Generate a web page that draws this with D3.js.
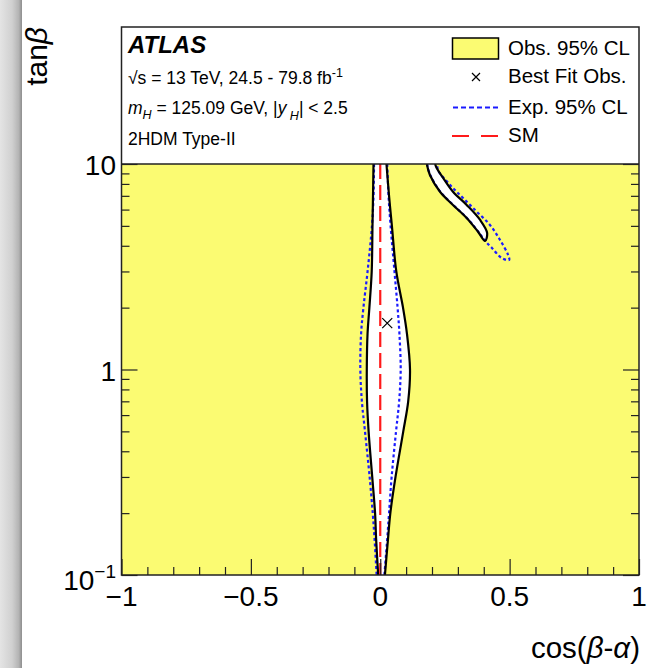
<!DOCTYPE html>
<html><head><meta charset="utf-8">
<script src="https://cdn.jsdelivr.net/npm/d3@7"></script>
<style>
body{margin:0;background:#fff}
svg{display:block}
text{font-family:"Liberation Sans",Arial,Helvetica,sans-serif;fill:#000}
</style>
</head><body>
<svg id="c" width="649" height="668"></svg>
<script>
// tan(beta) rows where the central allowed band is sampled
const tanBeta = [10, 7, 5, 3, 2, 1.5, 1, 0.7, 0.5, 0.3, 0.2, 0.15, 0.1];
// observed 95% CL band edges in cos(beta-alpha)
const obsLow  = [-0.026, -0.028, -0.030, -0.033, -0.042, -0.049, -0.052, -0.051, -0.045, -0.031, -0.020, -0.016, -0.008];
const obsHigh = [0.024, 0.034, 0.045, 0.062, 0.088, 0.103, 0.115, 0.108, 0.089, 0.059, 0.039, 0.030, 0.018];
// expected 95% CL band edges
const expLow  = [-0.024, -0.026, -0.032, -0.049, -0.065, -0.074, -0.077, -0.071, -0.059, -0.041, -0.029, -0.022, -0.014];
const expHigh = [0.027, 0.032, 0.040, 0.055, 0.067, 0.074, 0.079, 0.073, 0.061, 0.044, 0.034, 0.027, 0.016];
// upper-right observed island: lower edge down to the tip, then upper edge back to tanβ = 10
const obsIslandX = [0.180, 0.192, 0.231, 0.281, 0.334, 0.378, 0.405, 0.413, 0.386, 0.334, 0.281, 0.243, 0.218, 0.212];
const obsIslandT = [10, 8.84, 7.33, 6.32, 5.46, 4.68, 4.22, 4.62, 5.34, 6.32, 7.33, 8.55, 9.56, 10];
// upper-right expected island
const expIslandX = [0.181, 0.193, 0.232, 0.282, 0.335, 0.379, 0.406, 0.431, 0.469, 0.498, 0.494, 0.463, 0.424, 0.373, 0.320, 0.270, 0.223, 0.221];
const expIslandT = [10, 8.84, 7.33, 6.32, 5.46, 4.68, 4.22, 3.91, 3.49, 3.41, 3.61, 4.27, 5.05, 5.86, 6.83, 7.90, 9.35, 10];
// best-fit point and SM line
const bestFit = {x: 0.027, t: 1.68};
const smCos = 0;
// axis ticks
const xMajor = [-1, -0.5, 0, 0.5, 1];
const xMinor = [-0.9, -0.8, -0.7, -0.6, -0.4, -0.3, -0.2, -0.1, 0.1, 0.2, 0.3, 0.4, 0.6, 0.7, 0.8, 0.9];
const yMajor = [0.1, 1, 10];
const yMinor = [0.2, 0.3, 0.4, 0.5, 0.6, 0.7, 0.8, 0.9, 2, 3, 4, 5, 6, 7, 8, 9];
const legendLabels = ["Obs. 95% CL", "Best Fit Obs.", "Exp. 95% CL", "SM"];

const svg = d3.select("#c");
const L = 121.5, R = 639, T = 27, B = 575;
const x = d3.scaleLinear().domain([-1, 1]).range([L, R]);
const y = d3.scaleLog().domain([0.1, 10]).range([B, 164]);

const YEL = "#fbfb72", BLUE = "#1a1aff", RED = "#ff1a1a";

// scanned-edge strip along the left border
const defs = svg.append("defs");
const g = defs.append("linearGradient").attr("id", "strip");
g.append("stop").attr("offset", "0").attr("stop-color", "#e4e4e4");
g.append("stop").attr("offset", "0.55").attr("stop-color", "#d0d0d0");
g.append("stop").attr("offset", "0.85").attr("stop-color", "#b4b4b4");
g.append("stop").attr("offset", "1").attr("stop-color", "#8e8e8e");
svg.append("rect").attr("x", 0).attr("y", 0).attr("width", 22).attr("height", 668).attr("fill", "url(#strip)");

defs.append("clipPath").attr("id", "plot")
  .append("rect").attr("x", L).attr("y", y(10)).attr("width", R - L).attr("height", B - y(10));

// excluded region
svg.append("rect").attr("x", L).attr("y", y(10)).attr("width", R - L).attr("height", B - y(10)).attr("fill", YEL);

const body = svg.append("g").attr("clip-path", "url(#plot)");
const rows = tanBeta.map((t, i) => ({t, ol: obsLow[i], oh: obsHigh[i], el: expLow[i], eh: expHigh[i]}));
const curve = d3.curveCatmullRom.alpha(0.5);

// allowed regions (white)
body.append("path").datum(rows).attr("fill", "#fff")
  .attr("d", d3.area().curve(curve).y(d => y(d.t)).x0(d => x(d.ol)).x1(d => x(d.oh)));
const obsIsland = obsIslandX.map((v, i) => [x(v), y(obsIslandT[i])]);
body.append("path").datum(obsIsland).attr("fill", "#fff")
  .attr("d", d => d3.line().curve(curve)(d) + "Z");

// expected contour
const edge = (key) => d3.line().curve(curve).x(d => x(d[key])).y(d => y(d.t));
const dotted = {stroke: BLUE, "stroke-width": 2.2, "stroke-dasharray": "3,2.6", fill: "none"};
function style(sel, o) { Object.entries(o).forEach(([k, v]) => sel.attr(k, v)); return sel; }
style(body.append("path").datum(rows).attr("d", edge("el")), dotted);
style(body.append("path").datum(rows).attr("d", edge("eh")), dotted);
const expIsland = expIslandX.map((v, i) => [x(v), y(expIslandT[i])]);
style(body.append("path").datum(expIsland).attr("d", d3.line().curve(curve)), dotted);

// observed contour
const solid = {stroke: "#000", "stroke-width": 2.2, fill: "none"};
style(body.append("path").datum(rows).attr("d", edge("ol")), solid);
style(body.append("path").datum(rows).attr("d", edge("oh")), solid);
style(body.append("path").datum(obsIsland).attr("d", d3.line().curve(curve)), solid);

// SM expectation
body.append("line").attr("x1", x(smCos)).attr("x2", x(smCos)).attr("y1", y(10)).attr("y2", y(0.1))
  .attr("stroke", RED).attr("stroke-width", 2.2).attr("stroke-dasharray", "15,6");

// best fit marker
function cross(sel, cx, cy, s) {
  sel.append("path").attr("d", `M${cx - s},${cy - s}L${cx + s},${cy + s}M${cx - s},${cy + s}L${cx + s},${cy - s}`)
    .attr("stroke", "#000").attr("stroke-width", 1.2).attr("fill", "none");
}
cross(svg, x(bestFit.x), y(bestFit.t), 5);

// frame and the tanβ = 10 boundary
svg.append("rect").attr("x", L).attr("y", T).attr("width", R - L).attr("height", B - T)
  .attr("fill", "none").attr("stroke", "#222").attr("stroke-width", 1.5);
svg.append("line").attr("x1", L).attr("x2", R).attr("y1", y(10)).attr("y2", y(10))
  .attr("stroke", "#222").attr("stroke-width", 1.5);

// ticks
function ticks(axis, vals, size, tx, ty) {
  const a = svg.append("g").attr("transform", `translate(${tx},${ty})`)
    .call(axis.tickValues(vals).tickSize(size).tickFormat(""));
  a.select(".domain").remove();
  a.selectAll("line").attr("stroke", "#222").attr("stroke-width", 1.2);
}
ticks(d3.axisBottom(x), xMajor, -16, 0, B);
ticks(d3.axisBottom(x), xMinor, -8, 0, B);
ticks(d3.axisLeft(y), yMajor, -16, L, 0);
ticks(d3.axisLeft(y), yMinor, -8, L, 0);
ticks(d3.axisRight(y), yMajor, -16, R, 0);
ticks(d3.axisRight(y), yMinor, -8, R, 0);

// tick labels
const fmtX = v => (v < 0 ? "\u2212" : "") + Math.abs(v);
svg.append("g").selectAll("text").data(xMajor).join("text")
  .attr("x", d => x(d)).attr("y", 606).attr("text-anchor", "middle").attr("font-size", 28)
  .text(fmtX);
const yl = svg.append("g").attr("font-size", 28).attr("text-anchor", "end");
yl.append("text").attr("x", 116).attr("y", y(10) + 11).text("10");
yl.append("text").attr("x", 116).attr("y", y(1) + 11.5).text("1");
const t01 = yl.append("text").attr("x", 116).attr("y", y(0.1) + 15);
t01.append("tspan").text("10");
t01.append("tspan").attr("font-size", 19).attr("dy", -12).text("\u22121");

// axis titles
const xt = svg.append("text").attr("x", 640).attr("y", 658).attr("text-anchor", "end").attr("font-size", 29.5);
xt.append("tspan").text("cos(");
xt.append("tspan").attr("font-style", "italic").text("\u03b2");
xt.append("tspan").text("-");
xt.append("tspan").attr("font-style", "italic").text("\u03b1");
xt.append("tspan").text(")");
const yt = svg.append("text").attr("transform", `translate(47,${T}) rotate(-90)`).attr("text-anchor", "end").attr("font-size", 30);
yt.append("tspan").text("tan");
yt.append("tspan").attr("font-style", "italic").text("\u03b2");

// ATLAS label block
svg.append("text").attr("x", 128).attr("y", 53).attr("font-size", 24).attr("font-weight", "bold")
  .attr("font-style", "italic").text("ATLAS");
const l1 = svg.append("text").attr("x", 128).attr("y", 84).attr("font-size", 17.5);
l1.append("tspan").text("\u221as = 13 TeV, 24.5 - 79.8 fb");
l1.append("tspan").attr("font-size", 12.5).attr("dy", -7).text("-1");
const l2 = svg.append("text").attr("x", 128).attr("y", 114).attr("font-size", 17.5);
l2.append("tspan").attr("font-style", "italic").text("m");
l2.append("tspan").attr("font-style", "italic").attr("font-size", 12.5).attr("dy", 5).text("H");
l2.append("tspan").attr("dy", -5).text(" = 125.09 GeV, |");
l2.append("tspan").attr("font-style", "italic").text("y");
l2.append("tspan").attr("font-style", "italic").attr("font-size", 12.5).attr("dy", 6).text(" H");
l2.append("tspan").attr("dy", -6).text("| < 2.5");
svg.append("text").attr("x", 128).attr("y", 145).attr("font-size", 17.5).text("2HDM Type-II");

// legend
const lg = svg.append("g");
lg.append("rect").attr("x", 452.5).attr("y", 38).attr("width", 46).attr("height", 21)
  .attr("fill", YEL).attr("stroke", "#000").attr("stroke-width", 1.5);
cross(lg, 476, 77, 4);
lg.append("line").attr("x1", 453).attr("x2", 499).attr("y1", 107.5).attr("y2", 107.5)
  .attr("stroke", BLUE).attr("stroke-width", 2).attr("stroke-dasharray", "5,3");
lg.append("line").attr("x1", 452).attr("x2", 499).attr("y1", 136).attr("y2", 136)
  .attr("stroke", RED).attr("stroke-width", 2).attr("stroke-dasharray", "17,12");
lg.selectAll("text.lab").data(legendLabels).join("text").attr("class", "lab")
  .attr("x", 508).attr("y", (d, i) => [55, 83, 114, 142][i]).attr("font-size", 20.5).text(d => d);
</script>
</body></html>
